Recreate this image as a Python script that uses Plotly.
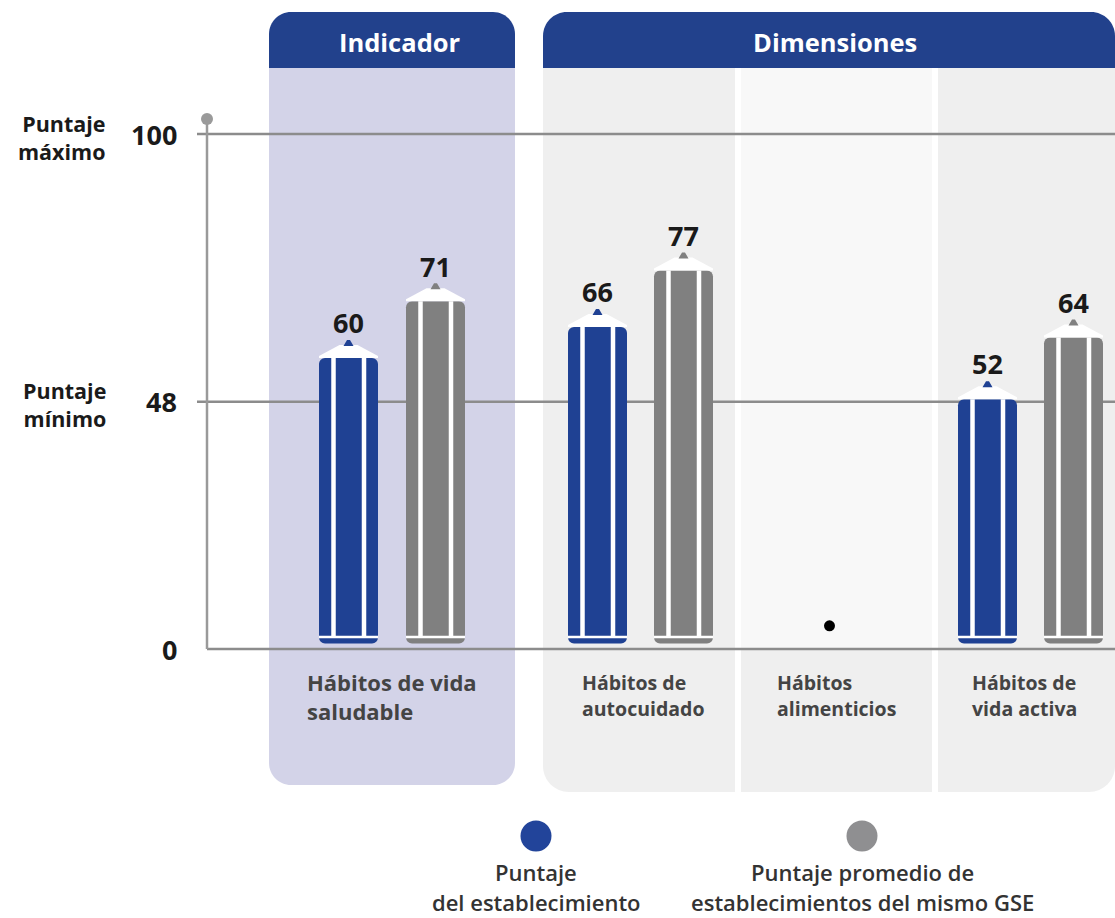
import plotly.graph_objects as go

W, H = 1115, 918

# ---------------- data ----------------
indicator_categories = ["Hábitos de vida<br>saludable"]
dimension_categories = ["Hábitos de<br>autocuidado", "Hábitos<br>alimenticios", "Hábitos de<br>vida activa"]
school_indicator = [60]
gse_indicator = [71]
school_dimensions = [66, None, 52]
gse_dimensions = [77, None, 64]
no_data_marker = [None, 4.5, None]
reference_values = [0, 48, 100]
reference_tick_labels = ["0", "48", "100"]
reference_names = ["", "Puntaje<br>mínimo", "Puntaje<br>máximo"]
panel_titles = ["Indicador", "Dimensiones"]
series_names = ["Puntaje<br>del establecimiento",
                "Puntaje promedio de<br>establecimientos del mismo GSE"]

# ---------------- style ----------------
BLUE = "#1f4193"
GRAY = "#808080"
LEG_BLUE = "#22449a"
LEG_GRAY = "#8f8f91"
HEADER = "#22418c"
LAV = "#d3d3e8"
LIGHT = "#efefef"
LIGHTER = "#f8f8f8"
LINE = "#8c8c8c"
FONT = "Open Sans"

Y0 = 649.0          # pixel row of value 0
K = 5.15            # pixels per unit (vertical)
yr = [-(H - Y0) / K, Y0 / K]

X1_L, X1_R = 269, 515
KX1 = X1_R - X1_L
X2_L, X2_R = 543, 1115
KX2 = 195.0
x2_range = [-0.5, -0.5 + (X2_R - X2_L) / KX2]


def PX(x):
    return x / W


def PY(y):
    return 1 - y / H


def ydata(py):
    return (Y0 - py) / K


def rrect(x0, y0, x1, y1, tl=0, tr=0, br=0, bl=0):
    c = 0.5523

    def p(x, y):
        return f"{PX(x):.5f},{PY(y):.5f}"
    s = f"M {p(x0 + tl, y0)} L {p(x1 - tr, y0)} "
    if tr:
        s += f"C {p(x1 - tr + c * tr, y0)} {p(x1, y0 + tr - c * tr)} {p(x1, y0 + tr)} "
    s += f"L {p(x1, y1 - br)} "
    if br:
        s += f"C {p(x1, y1 - br + c * br)} {p(x1 - br + c * br, y1)} {p(x1 - br, y1)} "
    s += f"L {p(x0 + bl, y1)} "
    if bl:
        s += f"C {p(x0 + bl - c * bl, y1)} {p(x0, y1 - bl + c * bl)} {p(x0, y1 - bl)} "
    s += f"L {p(x0, y0 + tl)} "
    if tl:
        s += f"C {p(x0, y0 + tl - c * tl)} {p(x0 + tl - c * tl, y0)} {p(x0 + tl, y0)} "
    s += "Z"
    return s


shapes = []


def panel(path, color):
    shapes.append(dict(type="path", path=path, xref="paper", yref="paper",
                       fillcolor=color, line=dict(width=0), layer="below"))


# panels
panel(rrect(269, 60, 515, 785, br=22, bl=22), LAV)
panel(rrect(269, 12, 515, 68, tl=22, tr=22), HEADER)
panel(rrect(543, 60, 735, 792, bl=26), LIGHT)
panel(rrect(741, 60, 932, 792), LIGHT)
panel(rrect(741, 68, 932, Y0), LIGHTER)
panel(rrect(938, 60, 1115, 792, br=26), LIGHT)
panel(rrect(543, 12, 1115, 68, tl=24, tr=24), HEADER)

# reference lines
for v in reference_values:
    shapes.append(dict(type="line", xref="paper", yref="y",
                       x0=PX(207 if v == 0 else 197), x1=1, y0=v, y1=v,
                       line=dict(color=LINE, width=2.5), layer="below"))
# vertical axis line and dot
top_dot = max(reference_values) + 15 / K
shapes.append(dict(type="line", xref="paper", yref="y", x0=PX(207), x1=PX(207),
                   y0=min(reference_values), y1=top_dot,
                   line=dict(color="#9a9a9a", width=2.5), layer="below"))
shapes.append(dict(type="circle", xref="paper", yref="y",
                   x0=PX(207 - 6), x1=PX(207 + 6), y0=top_dot - 6 / K, y1=top_dot + 6 / K,
                   fillcolor="#9a9a9a", line=dict(width=0), layer="below"))

fig = go.Figure()

CAP_PX = 13.0
TIP_PX = 5.0
HW_PX = 29.5
FOOT_PX = 5.5
SEP_PX = 12.0


def add_pencils(xs, values, color, xaxis, kx):
    bx, bbase, by = [], [], []
    cx, cy, tx_, ty_ = [], [], [], []
    sx, sy, lx, ly = [], [], [], []
    lab_x, lab_y, lab_t = [], [], []
    hw = HW_PX / kx
    for x, v in zip(xs, values):
        if v is None:
            continue
        top = v - (CAP_PX + TIP_PX) / K
        foot = FOOT_PX / K
        sep = SEP_PX / K
        bx.append(x)
        bbase.append(top)
        by.append(foot - top)
        for dx, dy in [(-HW_PX, 0), (-HW_PX, 2), (-9, CAP_PX), (9, CAP_PX), (HW_PX, 2), (HW_PX, 0)]:
            cx.append(x + dx / kx)
            cy.append(top + dy / K)
        cx.append(None)
        cy.append(None)
        for dx, dy in [(-5, CAP_PX - 1), (-1.5, CAP_PX + TIP_PX), (1.5, CAP_PX + TIP_PX), (5, CAP_PX - 1)]:
            tx_.append(x + dx / kx)
            ty_.append(top + dy / K)
        tx_.append(None)
        ty_.append(None)
        for s in (-15.0, 15.5):
            sx += [x + s / kx, x + s / kx, None]
            sy += [sep, top, None]
        lx += [x - hw, x + hw, None]
        ly += [sep, sep, None]
        lab_x.append(x)
        lab_y.append(v)
        lab_t.append(str(v))
    fig.add_trace(go.Bar(x=bx, y=by, base=bbase, width=2 * hw,
                         marker=dict(color=color, cornerradius=6, line=dict(width=0)),
                         xaxis=xaxis, yaxis="y", hoverinfo="skip"))
    fig.add_trace(go.Scatter(x=cx, y=cy, fill="toself", fillcolor="white", mode="lines",
                             line=dict(width=0, color="white"), xaxis=xaxis, yaxis="y",
                             hoverinfo="skip"))
    fig.add_trace(go.Scatter(x=tx_, y=ty_, fill="toself", fillcolor=color, mode="lines",
                             line=dict(width=0, color=color), xaxis=xaxis, yaxis="y",
                             hoverinfo="skip"))
    fig.add_trace(go.Scatter(x=sx, y=sy, mode="lines", line=dict(width=4.5, color="white"),
                             xaxis=xaxis, yaxis="y", hoverinfo="skip"))
    fig.add_trace(go.Scatter(x=lx, y=ly, mode="lines", line=dict(width=2.5, color="white"),
                             xaxis=xaxis, yaxis="y", hoverinfo="skip"))
    fig.add_trace(go.Scatter(x=lab_x, y=lab_y, mode="text", text=lab_t,
                             textposition="top center",
                             textfont=dict(family=FONT, size=27, color="#1a1a1a", weight="bold"),
                             xaxis=xaxis, yaxis="y", cliponaxis=False, hoverinfo="skip"))


off1 = 43.5 / KX1
off2 = 43.0 / KX2
idx1 = list(range(len(indicator_categories)))
idx2 = list(range(len(dimension_categories)))
add_pencils([i - off1 for i in idx1], school_indicator, BLUE, "x", KX1)
add_pencils([i + off1 for i in idx1], gse_indicator, GRAY, "x", KX1)
add_pencils([i - off2 for i in idx2], school_dimensions, BLUE, "x2", KX2)
add_pencils([i + off2 for i in idx2], gse_dimensions, GRAY, "x2", KX2)

# no-data marker
fig.add_trace(go.Scatter(x=[i - 6 / KX2 for i, v in zip(idx2, no_data_marker) if v is not None],
                         y=[v for v in no_data_marker if v is not None],
                         mode="markers", marker=dict(size=11, color="black"),
                         xaxis="x2", yaxis="y", hoverinfo="skip"))

annotations = []

# category labels (one annotation per line for line spacing)
for cats, xref, kx, left_px, size, gap in [
        (indicator_categories, "x", KX1, -87, 22, 28.5),
        (dimension_categories, "x2", KX2, -61, 19.5, 26)]:
    for i, lab in enumerate(cats):
        for j, line in enumerate(lab.split("<br>")):
            annotations.append(dict(x=i + left_px / kx, xref=xref, xanchor="left",
                                    y=ydata(682 + j * gap), yref="y", yanchor="middle",
                                    text=line, showarrow=False,
                                    font=dict(family=FONT, size=size, color="#444444", weight="bold")))

# y reference tick labels and names
for v, t, nm in zip(reference_values, reference_tick_labels, reference_names):
    annotations.append(dict(x=PX(179), xref="paper", xanchor="right", y=v, yref="y",
                            yanchor="middle", text=t, showarrow=False,
                            font=dict(family=FONT, size=27, color="#1a1a1a", weight="bold")))
    if nm:
        annotations.append(dict(x=PX(108), xref="paper", xanchor="right", align="right",
                                y=v - 3 / K, yref="y", yanchor="middle",
                                text=nm, showarrow=False,
                                font=dict(family=FONT, size=21.5, color="#1a1a1a", weight="bold")))

# panel titles
for t, cxp in zip(panel_titles, [400, 835]):
    annotations.append(dict(x=PX(cxp), xref="paper", y=PY(42), yref="paper",
                            xanchor="center", yanchor="middle", text=t, showarrow=False,
                            font=dict(family=FONT, size=25.5, color="white", weight="bold")))

# legend
for nm, col, cxp in zip(series_names, [LEG_BLUE, LEG_GRAY], [536, 862]):
    shapes.append(dict(type="circle", xref="paper", yref="paper",
                       x0=PX(cxp - 15.5), x1=PX(cxp + 15.5), y0=PY(836 + 15.5), y1=PY(836 - 15.5),
                       fillcolor=col, line=dict(width=0)))
    for j, line in enumerate(nm.split("<br>")):
        annotations.append(dict(x=PX(cxp), xref="paper", y=PY(872 + 30 * j), yref="paper",
                                xanchor="center", yanchor="middle", text=line, showarrow=False,
                                font=dict(family=FONT, size=22, color="#333333", weight=600)))

fig.update_layout(
    width=W, height=H, autosize=False,
    margin=dict(l=0, r=0, t=0, b=0),
    paper_bgcolor="white", plot_bgcolor="rgba(0,0,0,0)",
    showlegend=False, barmode="overlay",
    xaxis=dict(domain=[PX(X1_L), PX(X1_R)], range=[-0.5, 0.5], visible=False, anchor="y"),
    xaxis2=dict(domain=[PX(X2_L), 1.0], range=x2_range, visible=False, anchor="y"),
    yaxis=dict(domain=[0, 1], range=yr, visible=False),
    shapes=shapes, annotations=annotations,
)

fig.write_html("out.html", config={"displayModeBar": False},
               post_script="document.body.style.margin='0';")
